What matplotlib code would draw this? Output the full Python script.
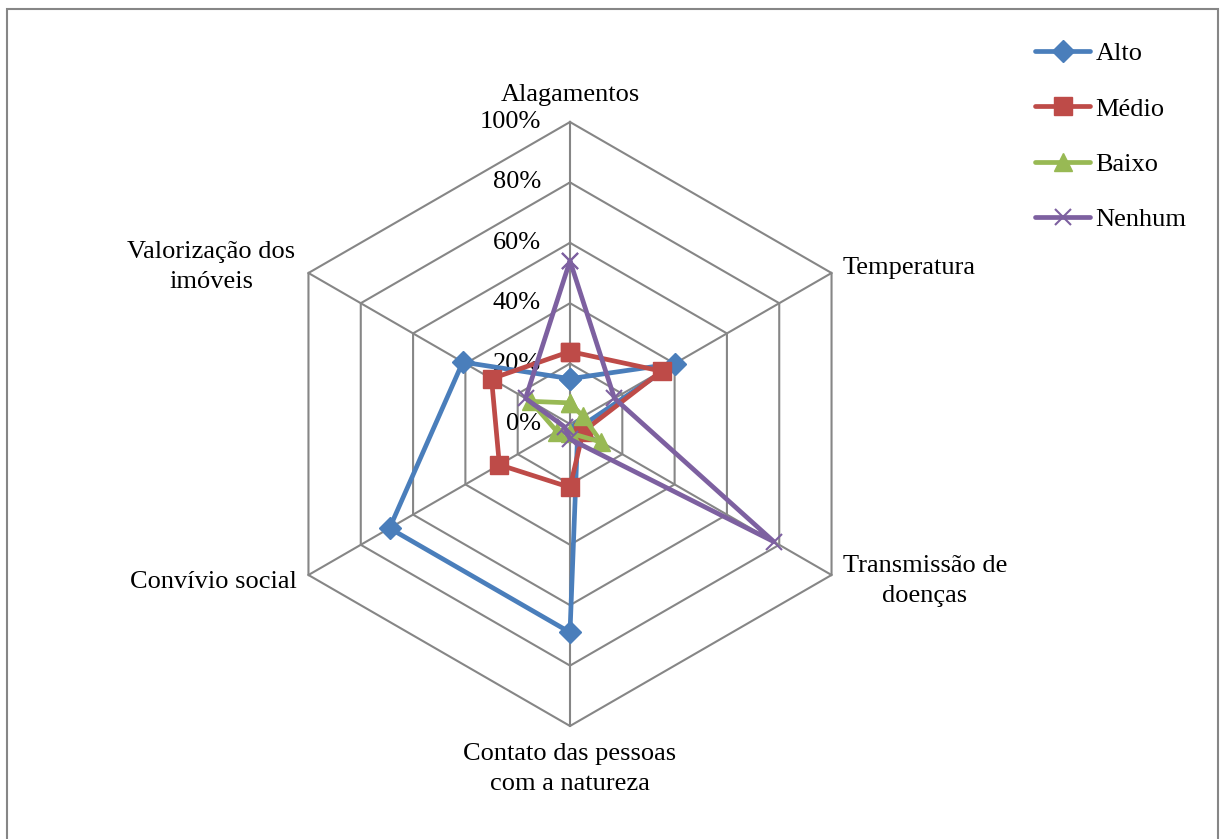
import numpy as np
import matplotlib
matplotlib.use('Agg')
import matplotlib.pyplot as plt
from matplotlib.transforms import offset_copy
from matplotlib.patches import Rectangle

# ---- data ----
categories = ['Alagamentos', 'Temperatura', 'Transmissão de\ndoenças',
              'Contato das pessoas\ncom a natureza', 'Convívio social',
              'Valorização dos\nimóveis']
series_names = ['Alto', 'Médio', 'Baixo', 'Nenhum']
alto = [15, 40, 3, 69, 69, 41]
medio = [24, 35, 5, 21, 27, 30]
baixo = [7, 5, 12, 3, 5, 15]
nenhum = [54, 17, 78, 5, 2, 17]
ticks = [0, 20, 40, 60, 80, 100]
tick_labels = ['0%', '20%', '40%', '60%', '80%', '100%']

plt.rcParams['font.family'] = ['Liberation Serif', 'DejaVu Serif']
FS = 19
GRID = '#868686'

W, H = 1221, 839
fig = plt.figure(figsize=(W / 100, H / 100), dpi=100)
cx, cy, R = 570, 424, 302
ax = fig.add_axes([(cx - R) / W, (H - cy - R) / H, 2 * R / W, 2 * R / H],
                  projection='polar')
ax.set_theta_offset(np.pi / 2)
ax.set_theta_direction(-1)
ax.set_ylim(0, 100)
ax.axis('off')

n = len(categories)
angles = np.arange(n) * 2 * np.pi / n
ang_closed = np.append(angles, angles[0])

# hexagonal grid
for t in ticks[1:]:
    ax.plot(ang_closed, [t] * (n + 1), color=GRID, lw=1.5, zorder=1, clip_on=False)
for a in angles:
    ax.plot([a, a], [0, 100], color=GRID, lw=1.5, zorder=1, clip_on=False)

# tick labels
tr = offset_copy(ax.transData, fig=fig, x=-29, y=0, units='dots')
for t, lab in zip(ticks, tick_labels):
    ax.text(0, t, lab, transform=tr, ha='right', va='center', fontsize=FS, zorder=2)

# series
styles = [
    dict(color='#4A7EBB', marker='D', ms=11, mew=1),
    dict(color='#BE4B48', marker='s', ms=12.5, mew=1),
    dict(color='#98B954', marker='^', ms=13, mew=1),
    dict(color='#7D60A0', marker='x', ms=12, mew=1.5),
]
for name, vals, st in zip(series_names, [alto, medio, baixo, nenhum], styles):
    v = np.append(vals, vals[0])
    ax.plot(ang_closed, v, lw=3.4, label=name, zorder=3, clip_on=False,
            solid_joinstyle='round', solid_capstyle='round', **st)

# category labels (pixel anchors)
def ftext(px, py, s, **kw):
    fig.text(px / W, 1 - py / H, s, fontsize=FS, linespacing=1.42, **kw)

ftext(570, 95, categories[0], ha='center', va='center')
ftext(843, 268, categories[1], ha='left', va='center')
ftext(925, 581, categories[2], ha='center', va='center', multialignment='center')
ftext(570, 769, categories[3], ha='center', va='center', multialignment='center')
ftext(297, 582, categories[4], ha='right', va='center')
ftext(211, 267, categories[5], ha='center', va='center', multialignment='center')

# legend
leg = fig.legend(loc='upper left', bbox_to_anchor=(1035 / W, 1 - 42 / H),
                 frameon=False, fontsize=FS, handlelength=2.1,
                 handletextpad=0.2, labelspacing=1.2, borderpad=0,
                 borderaxespad=0)

# outer border
fig.patches.append(Rectangle((7 / W, -0.01), (1218 - 7) / W, 1 - 9 / H + 0.01,
                             transform=fig.transFigure, fill=False,
                             edgecolor=GRID, lw=1.5))

fig.savefig('out.png', dpi=100)
